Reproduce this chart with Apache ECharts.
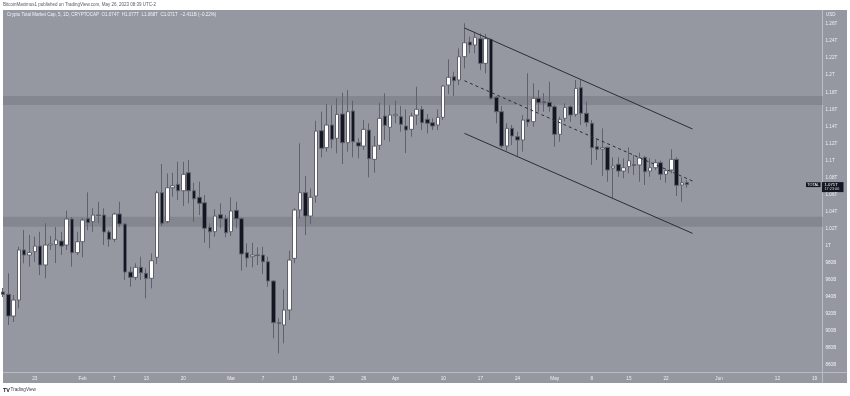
<!DOCTYPE html>
<html><head><meta charset="utf-8">
<script src="https://cdn.jsdelivr.net/npm/echarts@6/dist/echarts.min.js"></script>
<style>html,body{margin:0;padding:0;background:#fff;}#c{width:850px;height:396px;}</style>
</head><body><div id="c"></div>
<script>
// ---- data (values in billions USD) ----
const dates = ['01-17','01-18','01-19','01-20','01-21','01-22','01-23','01-24','01-25','01-26','01-27','01-28','01-29','01-30','01-31',
'02-01','02-02','02-03','02-04','02-05','02-06','02-07','02-08','02-09','02-10','02-11','02-12','02-13','02-14','02-15','02-16','02-17','02-18','02-19','02-20','02-21','02-22','02-23','02-24','02-25','02-26','02-27','02-28',
'03-01','03-02','03-03','03-04','03-05','03-06','03-07','03-08','03-09','03-10','03-11','03-12','03-13','03-14','03-15','03-16','03-17','03-18','03-19','03-20','03-21','03-22','03-23','03-24','03-25','03-26','03-27','03-28','03-29','03-30','03-31',
'04-01','04-02','04-03','04-04','04-05','04-06','04-07','04-08','04-09','04-10','04-11','04-12','04-13','04-14','04-15','04-16','04-17','04-18','04-19','04-20','04-21','04-22','04-23','04-24','04-25','04-26','04-27','04-28','04-29','04-30',
'05-01','05-02','05-03','05-04','05-05','05-06','05-07','05-08','05-09','05-10','05-11','05-12','05-13','05-14','05-15','05-16','05-17','05-18','05-19','05-20','05-21','05-22','05-23','05-24','05-25','05-26'];
const open = [945.7,943.0,917.5,936.3,995.0,989.1,993.0,999.6,977.4,1000.8,1001.4,1005.5,1000.8,1031.3,991.8,
1004.7,1031.7,1028.2,1036.0,1036.0,1016.1,1007.5,1037.2,1025.5,969.1,962.9,974.7,967.6,961.8,986.4,1062.2,1028.2,1068.0,1072.0,1064.5,1085.6,1064.5,1056.8,1050.4,1021.6,1016.4,1036.4,1031.7,
1016.4,1041.5,1031.7,991.8,987.1,989.1,989.1,981.2,958.6,909.7,907.0,924.6,985.2,1041.9,1062.2,1034.8,1058.3,1134.9,1115.0,1141.6,1126.0,1154.5,1120.8,1158.0,1120.8,1116.9,1135.7,1101.3,1117.8,1152.1,1138.9,
1152.5,1151.3,1140.4,1136.5,1153.3,1160.0,1148.3,1144.3,1141.6,1150.6,1188.5,1198.2,1194.4,1221.7,1238.9,1235.4,1242.8,1213.9,1242.1,1174.1,1157.2,1116.9,1137.7,1127.9,1124.0,1148.3,1145.5,1172.9,1168.9,1168.2,
1163.1,1130.7,1149.4,1163.1,1154.1,1185.3,1155.3,1143.6,1116.1,1113.4,1115.4,1091.1,1095.5,1087.6,1092.7,1095.2,1094.7,1103.7,1087.6,1091.5,1097.4,1083.8,1088.8,1101.3,1071.2,1074.0];
const high = [950.4,967.6,942.2,998.8,1018.4,1012.6,1010.6,1016.4,1026.3,1011.4,1021.9,1016.4,1041.1,1033.7,1016.4,
1032.1,1062.6,1043.9,1051.6,1043.9,1018.4,1038.7,1051.6,1026.3,975.4,979.4,987.1,973.5,991.1,1064.5,1095.8,1084.9,1085.6,1098.5,1098.5,1100.5,1073.9,1075.1,1059.5,1026.3,1042.7,1049.7,1036.0,
1056.8,1051.6,1033.3,1002.8,1003.5,998.1,998.8,987.1,959.8,914.8,948.9,994.1,1043.9,1120.1,1081.8,1067.3,1146.6,1157.2,1166.2,1165.0,1172.9,1179.5,1182.6,1170.1,1126.0,1147.4,1143.6,1128.7,1167.7,1178.8,1165.0,
1170.1,1163.9,1160.0,1156.0,1186.5,1163.9,1154.5,1149.4,1160.0,1188.5,1218.6,1204.1,1231.5,1260.9,1245.2,1251.0,1249.1,1248.3,1243.3,1175.6,1163.9,1143.6,1141.6,1133.7,1153.3,1202.2,1190.5,1182.6,1178.8,1192.4,
1165.0,1151.3,1167.0,1165.0,1194.4,1195.2,1168.9,1147.4,1126.0,1137.7,1116.1,1103.7,1103.7,1102.5,1115.4,1106.4,1109.1,1105.2,1102.5,1101.3,1099.7,1090.8,1113.1,1103.7,1080.2,1077.0];
const low = [939.8,907.0,910.5,926.6,979.4,975.4,981.2,965.6,961.8,995.0,979.7,989.1,995.0,975.4,989.1,
986.4,1018.4,1016.4,1026.3,1000.8,998.8,1004.3,1022.3,959.8,951.9,959.8,959.8,938.3,950.0,978.5,1023.1,1026.3,1057.5,1053.6,1046.6,1049.7,1028.2,1036.0,1003.5,997.0,1010.6,1020.4,1009.9,
1011.4,1020.4,970.7,974.7,974.7,977.4,966.8,951.9,891.4,873.8,885.5,912.8,979.4,1032.1,1012.6,1025.5,1050.4,1103.7,1110.3,1114.3,1108.4,1095.8,1110.3,1103.7,1102.5,1112.3,1080.2,1085.6,1112.3,1124.0,1122.0,
1143.6,1133.7,1108.7,1127.9,1141.6,1135.7,1131.8,1135.7,1135.7,1147.4,1177.9,1175.6,1188.5,1208.1,1225.7,1225.7,1206.1,1202.2,1170.9,1143.6,1114.3,1111.4,1118.1,1104.4,1110.3,1139.6,1139.6,1157.2,1157.2,1157.2,
1116.1,1122.0,1145.5,1145.5,1151.3,1141.6,1139.6,1094.7,1100.5,1081.8,1075.1,1055.6,1080.9,1079.1,1084.9,1082.9,1075.1,1071.2,1080.9,1088.8,1077.1,1073.9,1084.9,1058.3,1051.6,1068.0];
const close = [943.0,917.5,936.3,995.0,989.1,992.0,999.6,977.4,1000.8,1002.0,1006.7,999.6,1031.3,991.8,1004.7,
1030.1,1027.0,1036.0,1035.6,1016.1,1007.5,1037.2,1025.5,969.1,962.9,974.7,968.3,961.8,982.4,1062.2,1026.3,1068.0,1070.4,1064.5,1083.8,1064.5,1055.1,1049.7,1020.4,1016.4,1034.8,1031.7,1015.2,
1040.7,1031.7,990.3,985.6,989.1,988.5,981.2,958.6,909.7,908.7,924.6,983.2,1041.9,1062.2,1034.8,1056.8,1134.5,1114.3,1141.6,1124.8,1154.1,1120.8,1157.2,1122.0,1116.9,1136.5,1102.1,1116.9,1149.4,1141.2,1153.3,
1154.1,1142.4,1135.7,1152.1,1160.0,1144.3,1143.6,1140.4,1150.6,1187.3,1197.5,1193.5,1221.7,1238.1,1235.4,1244.5,1213.9,1242.8,1172.9,1157.2,1116.9,1137.7,1128.7,1124.0,1147.4,1145.1,1172.9,1167.7,1167.7,1163.1,
1130.7,1148.3,1162.3,1153.3,1184.6,1155.3,1144.7,1115.0,1113.1,1115.0,1088.8,1093.5,1087.6,1091.5,1099.7,1094.1,1102.9,1086.8,1091.5,1097.4,1083.8,1088.0,1101.3,1070.8,1073.9,1071.7];

const xTickDates = ['01-23','02-01','02-07','02-13','02-20','03-01','03-07','03-13','03-20','03-26','04-01','04-10','04-17','04-24','05-01','05-08','05-15','05-22','06-01','06-12','06-19'];
const xTickLabels = ['23','Feb','7','13','20','Mar','7','13','20','26','Apr','10','17','24','May','8','15','22','Jun','12','19'];
const yTickValues = [860,880,900,920,940,960,980,1000,1020,1040,1060,1080,1100,1120,1140,1160,1180,1200,1220,1240,1260];
const yTickLabels = ['860B','880B','900B','920B','940B','960B','980B','1T','1.02T','1.04T','1.06T','1.08T','1.1T','1.12T','1.14T','1.16T','1.18T','1.2T','1.22T','1.24T','1.26T'];

// horizontal zones [from, to]
const zones = [[1165.0,1175.6],[1022.3,1034.0]];
// channel lines: [[startDate, startValue],[endDate, endValue]]
const channelUpper = [['04-14',1255.4],['05-27',1136.9]];
const channelMiddle = [['04-14',1193.5],['05-27',1075.9]];
const channelLower = [['04-14',1131.8],['05-27',1014.5]];

const titleText = 'Crypto Total Market Cap, 5, 1D, CRYPTOCAP  O1.074T  H1.077T  L1.068T  C1.071T  −2.411B (−0.22%)';
const headerText = 'BitcoinMaximus1 published on TradingView.com, May 26, 2023 08:39 UTC-2';

// ---- build ----
const base = Date.UTC(2023,0,23);
const dayOf = s => (Date.UTC(2023, +s.slice(0,2)-1, +s.slice(3,5)) - base)/864e5;
const candles = dates.map((d,i)=>[dayOf(d), open[i], close[i], low[i], high[i]]);
const xTicks = xTickDates.map(dayOf);
const xLabelMap = new Map(xTicks.map((v,i)=>[v, xTickLabels[i]]));
const yLabelMap = new Map(yTickValues.map((v,i)=>[v, yTickLabels[i]]));
const seg = (p)=>[{coord:[dayOf(p[0][0]), p[0][1]]},{coord:[dayOf(p[1][0]), p[1][1]]}];
const dashedSeg = (p)=>{const s=seg(p); s[0].lineStyle={type:[3,3], color:'#2a2e39', width:1}; return s;};

const FONT = 'Liberation Sans, Roboto, sans-serif';
const chart = echarts.init(document.getElementById('c'));
const baseGraphics = [
    {id:'bg', type:'rect', z:-100, shape:{x:3,y:10,width:844,height:373}, style:{fill:'#9598a1'}},
    {id:'vsep', type:'line', z:-50, shape:{x1:822.5,y1:10,x2:822.5,y2:383}, style:{stroke:'#b9bcc4', lineWidth:1}},
    {id:'hsep', type:'line', z:-50, shape:{x1:3,y1:372.5,x2:847,y2:372.5}, style:{stroke:'#b9bcc4', lineWidth:1}},
    {id:'hdr', type:'text', x:3, y:5, style:{text:headerText, fill:'#555a66', fontSize:4.5, fontFamily:FONT, verticalAlign:'middle'}},
    {id:'ttl', type:'text', x:7, y:15, style:{text:titleText, fill:'#f2f3f6', fontSize:4.5, fontFamily:FONT, verticalAlign:'middle'}},
    {id:'usd', type:'text', x:826, y:15, style:{text:'USD', fill:'#eef0f4', fontSize:4.5, fontFamily:FONT, verticalAlign:'middle'}},
    {id:'tv1', type:'text', x:3, y:390, style:{text:'TV', fill:'#131722', fontSize:5.5, fontWeight:'bold', fontFamily:FONT, verticalAlign:'middle'}},
    {id:'tv2', type:'text', x:10.5, y:390, style:{text:'TradingView', fill:'#3a3e4a', fontSize:4.6, fontFamily:FONT, verticalAlign:'middle'}}
];
chart.setOption({
  animation:false,
  backgroundColor:'#ffffff',
  grid:{left:3, top:10, width:819.5, height:362.5},
  xAxis:{type:'value', min:-6, max:148.5,
    axisLine:{show:false}, axisTick:{show:false}, splitLine:{show:false},
    axisLabel:{customValues:xTicks, formatter:v=>xLabelMap.get(v)||'', color:'#eef0f4', fontSize:4.6, margin:3.5, fontFamily:FONT}},
  yAxis:{type:'value', position:'right', min:851.3, max:1276.5, scale:true,
    axisLine:{show:false}, axisTick:{show:false}, splitLine:{show:false},
    axisLabel:{customValues:yTickValues, formatter:v=>yLabelMap.get(v)||'', color:'#eef0f4', fontSize:4.6, margin:3, fontFamily:FONT}},
  graphic:baseGraphics,
  series:[
    {type:'line', data:[], z:1, silent:true,
      markArea:{silent:true, itemStyle:{color:'#84878f'},
        data:zones.map(z=>[{yAxis:z[0]},{yAxis:z[1]}])}},
    {type:'candlestick', z:3, data:candles, encode:{x:0, y:[1,2,3,4]}, barWidth:4,
      itemStyle:{color:'#ffffff', color0:'#131722', borderColor:'#5f626d', borderColor0:'#5f626d', borderColorDoji:'#5f626d', borderWidth:1},
      markLine:{silent:true, symbol:'none', label:{show:false},
        lineStyle:{color:'#2a2e39', width:1, type:'solid'},
        data:[seg(channelUpper), seg(channelLower), dashedSeg(channelMiddle)]
      }}
  ]
});

// last price labels on the price scale
const lastIdx = close.length-1;
const p = chart.convertToPixel({gridIndex:0}, [dayOf(dates[lastIdx]), close[lastIdx]]);
const py = p[1];
chart.setOption({graphic:baseGraphics.concat([
  {id:'tb', type:'rect', z:10, shape:{x:806,y:py-2.3,width:14.5,height:4.8}, style:{fill:'#131722'}},
  {id:'tt', type:'text', z:11, x:813.2, y:py, style:{text:'TOTAL', fill:'#ffffff', fontSize:3.8, fontFamily:FONT, align:'center', verticalAlign:'middle'}},
  {id:'vb', type:'rect', z:10, shape:{x:822,y:py-2.5,width:21.5,height:10}, style:{fill:'#131722'}},
  {id:'vt', type:'text', z:11, x:824.5, y:py, style:{text:'1.071T', fill:'#ffffff', fontSize:4.3, fontFamily:FONT, verticalAlign:'middle'}},
  {id:'ct', type:'text', z:11, x:824.5, y:py+4.8, style:{text:'17:23:06', fill:'#d8dae0', fontSize:3.8, fontFamily:FONT, verticalAlign:'middle'}}
])});
</script></body></html>
